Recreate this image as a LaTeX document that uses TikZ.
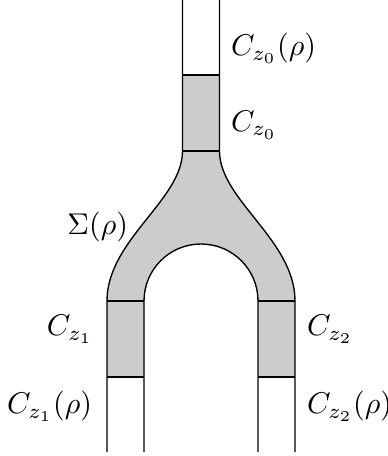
\documentclass[tikz,border=0pt]{standalone}
\begin{document}
\begin{tikzpicture}[x=0.33333pt,y=-0.33333pt,
  lbl/.style={inner sep=0pt,outer sep=0pt},
  band/.style={fill=black!20,draw=none},
  edge/.style={draw=black,line width=0.45pt}]
\useasboundingbox (0,0) rectangle (387,456);
% shaded region
\path[band] (182.5,75) -- (182.5,151) .. controls (182.5,200) and (107,240) .. (107,301)
  -- (107,377) -- (144,377) -- (144,301)
  .. controls (144,269.5) and (169.5,244) .. (201,244)
  .. controls (232.5,244) and (258,269.5) .. (258,301)
  -- (258,377) -- (295,377) -- (295,301)
  .. controls (295,240) and (219.5,200) .. (219.5,151) -- (219.5,75) -- cycle;
% outlines
\coordinate (tl) at (182.5,0); \coordinate (tr) at (219.5,0);
\coordinate (ml) at (182.5,151); \coordinate (mr) at (219.5,151);
\coordinate (ul) at (182.5,75); \coordinate (ur) at (219.5,75);
\coordinate (ol) at (107,301); \coordinate (il) at (144,301);
\coordinate (ir) at (258,301); \coordinate (or) at (295,301);
\coordinate (olb) at (107,377); \coordinate (ilb) at (144,377);
\coordinate (irb) at (258,377); \coordinate (orb) at (295,377);
\coordinate (ole) at (107,452); \coordinate (ile) at (144,452);
\coordinate (ire) at (258,452); \coordinate (ore) at (295,452);
\path[edge] (tl) -- (ml) .. controls (182.5,200) and (107,240) .. (ol) -- (ole);
\path[edge] (tr) -- (mr) .. controls (219.5,200) and (295,240) .. (or) -- (ore);
\path[edge] (ile) -- (il) .. controls (144,269.5) and (169.5,244) .. (201,244)
  .. controls (232.5,244) and (258,269.5) .. (ir) -- (ire);
\path[edge] (ul) -- (ur);
\path[edge] (ml) -- (mr);
\path[edge] (ol) -- (il);
\path[edge] (olb) -- (ilb);
\path[edge] (ir) -- (or);
\path[edge] (irb) -- (orb);
% labels
\node[lbl,anchor=west] (c0r) at (231,48) {$C_{z_0}(\rho)$};
\node[lbl,anchor=west] (c0) at (231,125) {$C_{z_0}$};
\node[lbl,anchor=east] (sig) at (128,227) {$\Sigma(\rho)$};
\node[lbl,anchor=east] (c1) at (93,329) {$C_{z_1}$};
\node[lbl,anchor=east] (c1r) at (92,406) {$C_{z_1}(\rho)$};
\node[lbl,anchor=west] (c2) at (307,329) {$C_{z_2}$};
\node[lbl,anchor=west] (c2r) at (307,406) {$C_{z_2}(\rho)$};
\end{tikzpicture}
\end{document}
